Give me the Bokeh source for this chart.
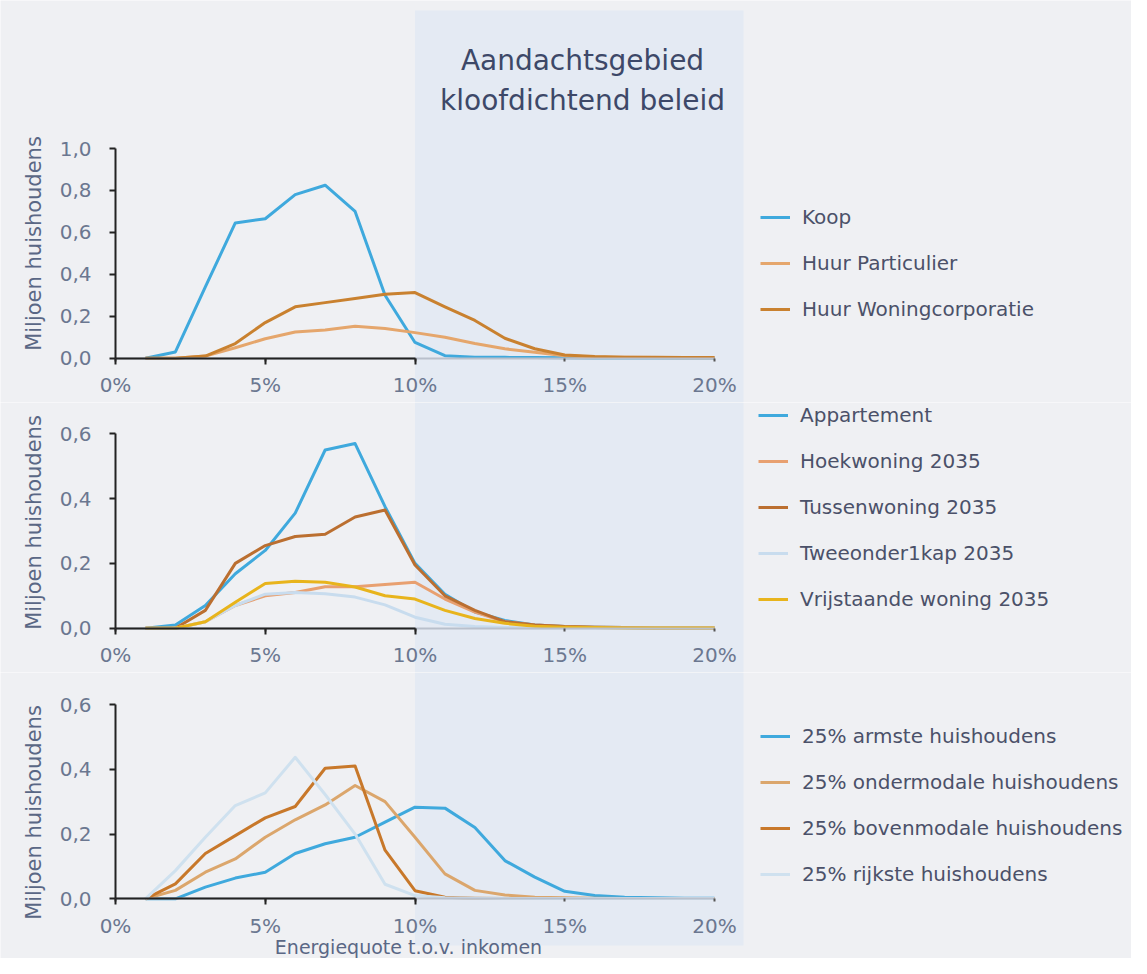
import math
from bokeh.plotting import figure
from bokeh.layouts import column
from bokeh.models import (LinearAxis, FixedTicker, CustomJSTickFormatter, Range1d,
                          BoxAnnotation, Legend, LegendItem, Label)
from bokeh.embed import file_html
from bokeh.resources import INLINE

# ---------------- data ----------------
pct = list(range(1, 21))  # Energiequote (% of income)

# Panel 1: tenure
koop = [0.00, 0.03, 0.34, 0.645, 0.665, 0.78, 0.825, 0.70, 0.30, 0.075,
        0.012, 0.005, 0.004, 0.003, 0.002, 0.001, 0.001, 0.001, 0.001, 0.001]
huur_particulier = [0.00, 0.00, 0.01, 0.05, 0.093, 0.125, 0.135, 0.152, 0.142, 0.122,
                    0.10, 0.07, 0.045, 0.028, 0.012, 0.006, 0.004, 0.003, 0.002, 0.002]
huur_woningcorporatie = [0.00, 0.00, 0.01, 0.07, 0.17, 0.245, 0.265, 0.285, 0.305, 0.313,
                         0.245, 0.18, 0.095, 0.045, 0.015, 0.008, 0.005, 0.004, 0.003, 0.003]

# Panel 2: dwelling type
appartement = [0.00, 0.01, 0.07, 0.168, 0.24, 0.355, 0.55, 0.57, 0.375, 0.20,
               0.105, 0.05, 0.024, 0.01, 0.005, 0.003, 0.002, 0.001, 0.001, 0.001]
hoekwoning = [0.00, 0.00, 0.02, 0.07, 0.10, 0.11, 0.128, 0.128, 0.135, 0.142,
              0.09, 0.05, 0.02, 0.01, 0.005, 0.003, 0.002, 0.001, 0.001, 0.001]
tussenwoning = [0.00, 0.00, 0.055, 0.20, 0.255, 0.283, 0.29, 0.343, 0.365, 0.195,
                0.10, 0.055, 0.02, 0.01, 0.005, 0.003, 0.002, 0.001, 0.001, 0.001]
tweeonder1kap = [0.00, 0.00, 0.02, 0.07, 0.105, 0.11, 0.106, 0.096, 0.072, 0.034,
                 0.012, 0.005, 0.002, 0.001, 0.001, 0.001, 0.001, 0.001, 0.001, 0.001]
vrijstaand = [0.00, 0.00, 0.02, 0.08, 0.138, 0.145, 0.142, 0.127, 0.10, 0.09,
              0.055, 0.03, 0.015, 0.006, 0.003, 0.002, 0.001, 0.001, 0.001, 0.001]

# Panel 3: income quartile
armste = [0.00, 0.00, 0.036, 0.064, 0.082, 0.14, 0.17, 0.19, 0.237, 0.283,
          0.28, 0.22, 0.118, 0.067, 0.023, 0.01, 0.005, 0.003, 0.002, 0.002]
ondermodaal = [0.00, 0.026, 0.082, 0.123, 0.19, 0.244, 0.29, 0.35, 0.30, 0.19,
               0.077, 0.026, 0.012, 0.005, 0.003, 0.002, 0.001, 0.001, 0.001, 0.001]
bovenmodaal = [0.00, 0.046, 0.14, 0.195, 0.25, 0.285, 0.403, 0.41, 0.15, 0.025,
               0.005, 0.002, 0.001, 0.001, 0.001, 0.001, 0.001, 0.001, 0.001, 0.001]
rijkste = [0.00, 0.087, 0.19, 0.288, 0.327, 0.437, 0.322, 0.20, 0.045, 0.01,
           0.003, 0.002, 0.001, 0.001, 0.001, 0.001, 0.001, 0.001, 0.001, 0.001]

labels_1 = ["Koop", "Huur Particulier", "Huur Woningcorporatie"]
labels_2 = ["Appartement", "Hoekwoning 2035", "Tussenwoning 2035",
            "Tweeonder1kap 2035", "Vrijstaande woning 2035"]
labels_3 = ["25% armste huishoudens", "25% ondermodale huishoudens",
            "25% bovenmodale huishoudens", "25% rijkste huishoudens"]

x_ticks_dark = [0, 5, 10]
x_ticks_all = [0, 5, 10, 15, 20]
y_ticks_1 = [0.0, 0.2, 0.4, 0.6, 0.8, 1.0]
y_ticks_23 = [0.0, 0.2, 0.4, 0.6]

title_lines = ["Aandachtsgebied", "kloofdichtend beleid"]
y_label = "Miljoen huishoudens"
x_label = "Energiequote t.o.v. inkomen"

# ---------------- style ----------------
BG = "#eff0f3"
SHADE = "#e4eaf3"
FONT = "DejaVu Sans"
BLUE = "#3fa9dd"
C1 = [BLUE, "#e5a66c", "#c9812f"]
C2 = [BLUE, "#e8a070", "#bb6f30", "#c8dcee", "#e8b41c"]
C3 = [BLUE, "#dba66c", "#c8782a", "#cfe1ef"]
TICK_COL = "#6b7790"
LABEL_COL = "#5a6785"
LEG_COL = "#4b5169"

W = 1131
ORIGIN_PX = 115.0       # canvas x of 0 %
PX_PER_PCT = 29.95
X_START = -ORIGIN_PX / PX_PER_PCT
X_END = (W - ORIGIN_PX) / PX_PER_PCT


def px_to_x(px):
    return (px - ORIGIN_PX) / PX_PER_PCT


def make_panel(height, zero_px, top_px, top_val, yticks, series, names, colors,
               leg_loc, ylabel_px, shade_top_px=None, shade_bottom_px=None):
    scale = (zero_px - top_px) / top_val

    def py(px):
        return (zero_px - px) / scale

    p = figure(width=W, height=height, output_backend="svg", toolbar_location=None,
               x_axis_type=None, y_axis_type=None,
               x_range=Range1d(X_START, X_END), y_range=Range1d(py(height), py(0)),
               min_border_left=0, min_border_right=0, min_border_top=0,
               min_border_bottom=0, background_fill_color=BG, border_fill_color=BG,
               outline_line_color=None)
    p.grid.visible = False

    box = BoxAnnotation(left=10, right=px_to_x(743), fill_color=SHADE, fill_alpha=1.0,
                        line_color=None, level="underlay")
    if shade_top_px is not None:
        box.top = py(shade_top_px)
    if shade_bottom_px is not None:
        box.bottom = py(shade_bottom_px)
    p.add_layout(box)

    # y axis at x = 0 %
    yax = LinearAxis(ticker=FixedTicker(ticks=yticks), bounds=(0, top_val), fixed_location=0,
                     formatter=CustomJSTickFormatter(code="return tick.toFixed(1).replace('.', ',');"),
                     major_label_text_font=FONT, major_label_text_font_size="20px",
                     major_label_text_color=TICK_COL, major_label_standoff=18,
                     axis_line_color="#222222", axis_line_width=2,
                     major_tick_line_color="#222222", major_tick_line_width=2,
                     major_tick_out=6, major_tick_in=0, minor_tick_line_color=None)
    p.add_layout(yax, "left")

    # x axis (light part, all labels)
    xax = LinearAxis(ticker=FixedTicker(ticks=x_ticks_all), bounds=(0, 20), fixed_location=0,
                     formatter=CustomJSTickFormatter(code="return tick + '%';"),
                     major_label_text_font=FONT, major_label_text_font_size="20px",
                     major_label_text_color=TICK_COL, major_label_standoff=12,
                     axis_line_color="#b9c0cc", axis_line_width=2,
                     major_tick_line_color="#555555", major_tick_line_width=2,
                     major_tick_out=3, major_tick_in=0, minor_tick_line_color=None)
    p.add_layout(xax, "below")
    # x axis (dark part 0-10 %)
    xax2 = LinearAxis(ticker=FixedTicker(ticks=x_ticks_dark), bounds=(0, 10), fixed_location=0,
                      major_label_text_color=None, major_label_text_font_size="20px",
                      major_label_standoff=12,
                      axis_line_color="#222222", axis_line_width=2,
                      major_tick_line_color="#222222", major_tick_line_width=2,
                      major_tick_out=6, major_tick_in=0, minor_tick_line_color=None)
    p.add_layout(xax2, "below")

    # y-axis title
    p.add_layout(Label(x=px_to_x(33), y=py(ylabel_px), text=y_label, angle=math.pi / 2,
                       text_align="center", text_baseline="middle", text_font=FONT,
                       text_font_size="21px", text_color=LABEL_COL))

    items = []
    for vals, name, col in zip(series, names, colors):
        r = p.line(pct, vals, line_width=3, line_color=col, line_join="round")
        items.append(LegendItem(label=name, renderers=[r]))
    leg = Legend(items=items, location=leg_loc, glyph_width=30, glyph_height=24,
                 label_height=24, label_standoff=12, spacing=22, padding=0, margin=0,
                 border_line_color=None, background_fill_alpha=0,
                 label_text_font=FONT, label_text_font_size="20px",
                 label_text_color=LEG_COL)
    p.add_layout(leg)
    return p, py


TOP2 = 402
TOP3 = 672

p1, py1 = make_panel(TOP2, 357.7, 148.0, 1.0, y_ticks_1,
                     [koop, huur_particulier, huur_woningcorporatie], labels_1, C1,
                     (760, 81), 243, shade_top_px=10)
p2, py2 = make_panel(TOP3 - TOP2, 627.7 - TOP2, 433.3 - TOP2, 0.6, y_ticks_23,
                     [appartement, hoekwoning, tussenwoning, tweeonder1kap, vrijstaand],
                     labels_2, C2, (758, 61), 522 - TOP2)
p3, py3 = make_panel(958 - TOP3, 898.3 - TOP3, 704.0 - TOP3, 0.6, y_ticks_23,
                     [armste, ondermodaal, bovenmodaal, rijkste], labels_3, C3,
                     (760, 72), 812 - TOP3, shade_bottom_px=945 - TOP3)

# title inside the shaded area
for txt, ypx in zip(title_lines, [60.0, 100.0]):
    p1.add_layout(Label(x=px_to_x(582), y=py1(ypx), text=txt, text_align="center",
                        text_baseline="middle", text_font=FONT, text_font_size="28px",
                        text_color="#3d4868"))

# x-axis title under the last panel
p3.add_layout(Label(x=px_to_x(408), y=py3(946 - TOP3), text=x_label, text_align="center",
                    text_baseline="middle", text_font=FONT, text_font_size="19px",
                    text_color=LABEL_COL))

layout = column(p1, p2, p3, spacing=0)
open("out.html", "w").write(file_html(layout, INLINE))
